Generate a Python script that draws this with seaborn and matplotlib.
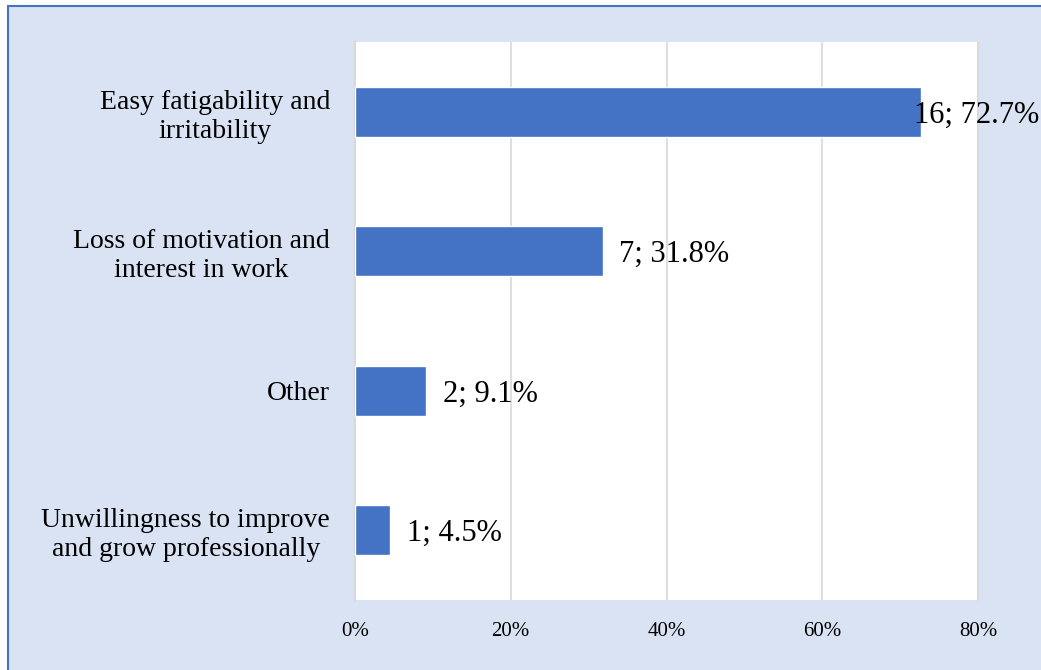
import matplotlib
matplotlib.use("Agg")
import matplotlib.pyplot as plt
from matplotlib.lines import Line2D
from matplotlib.patches import Rectangle
import seaborn as sns
import pandas as pd

categories = ["Easy fatigability and\nirritability",
              "Loss of motivation and\ninterest in work",
              "Other",
              "Unwillingness to improve\nand grow professionally"]
counts = [16, 7, 2, 1]
percents = [72.7, 31.8, 9.1, 4.5]
xticks = [0, 20, 40, 60, 80]
xtick_labels = ["0%", "20%", "40%", "60%", "80%"]

BG = "#DAE3F3"
BAR = "#4472C4"
GRID = "#D9D9D9"

sns.set_theme(style="white")
plt.rcParams["font.family"] = ["Liberation Serif", "DejaVu Serif"]

W, H = 1041, 670
fig = plt.figure(figsize=(W / 100, H / 100), dpi=100, facecolor="white")

# chart area background with left and top border
fig.patches.append(Rectangle((7.5 / W, 0), 1 - 7.5 / W, 1 - 5.5 / H,
                             transform=fig.transFigure, facecolor=BG,
                             edgecolor="none", zorder=-10))
fig.lines.append(Line2D([7.5 / W, 7.5 / W], [0, 1 - 5.5 / H],
                        transform=fig.transFigure, color=BAR, lw=1.5))
fig.lines.append(Line2D([7.5 / W, 1], [1 - 5.5 / H, 1 - 5.5 / H],
                        transform=fig.transFigure, color=BAR, lw=1.5))

ax = fig.add_axes([355 / W, 1 - 600 / H, (978 - 355) / W, (600 - 42) / H])
ax.set_facecolor("white")

df = pd.DataFrame({"category": categories, "percent": percents, "count": counts})
sns.barplot(data=df, x="percent", y="category", orient="h", color=BAR,
            saturation=1, width=0.36, ax=ax, zorder=3)

ax.set_xlim(0, 80)
ax.set_xticks(xticks)
ax.set_xticklabels(xtick_labels, fontsize=15)
ax.set_xlabel("")
ax.set_ylabel("")
ax.xaxis.grid(True, color=GRID, lw=1.2, zorder=0)
ax.set_axisbelow(True)
for s in ["top", "bottom"]:
    ax.spines[s].set_visible(False)
ax.spines["left"].set_color(GRID)
ax.spines["left"].set_linewidth(1.5)
ax.spines["right"].set_color(GRID)
ax.spines["right"].set_linewidth(1.2)
ax.tick_params(axis="x", length=0, pad=16)
ax.tick_params(axis="y", length=0, pad=18)
for lbl in ax.get_yticklabels():
    lbl.set_fontsize(20)
    lbl.set_multialignment("center")
    lbl.set_linespacing(1.2)
    lbl.set_color("black")
for lbl in ax.get_xticklabels():
    lbl.set_color("black")

texts = []
for i, (c, p) in enumerate(zip(counts, percents)):
    t = ax.annotate(f"{c}; {p}%", xy=(p, i), xytext=(12, -2.5),
                    textcoords="offset points", ha="left", va="center",
                    fontsize=22, color="black", zorder=5)
    texts.append(t)

fig.canvas.draw()
renderer = fig.canvas.get_renderer()
for t in texts:
    bb = t.get_window_extent(renderer)
    if bb.x1 > W - 2:
        shift = (bb.x1 - (W - 2)) * 72 / 100
        x0, y0 = t.xyann
        t.xyann = (x0 - shift, y0)

fig.savefig("out.png", dpi=100, facecolor=fig.get_facecolor())
